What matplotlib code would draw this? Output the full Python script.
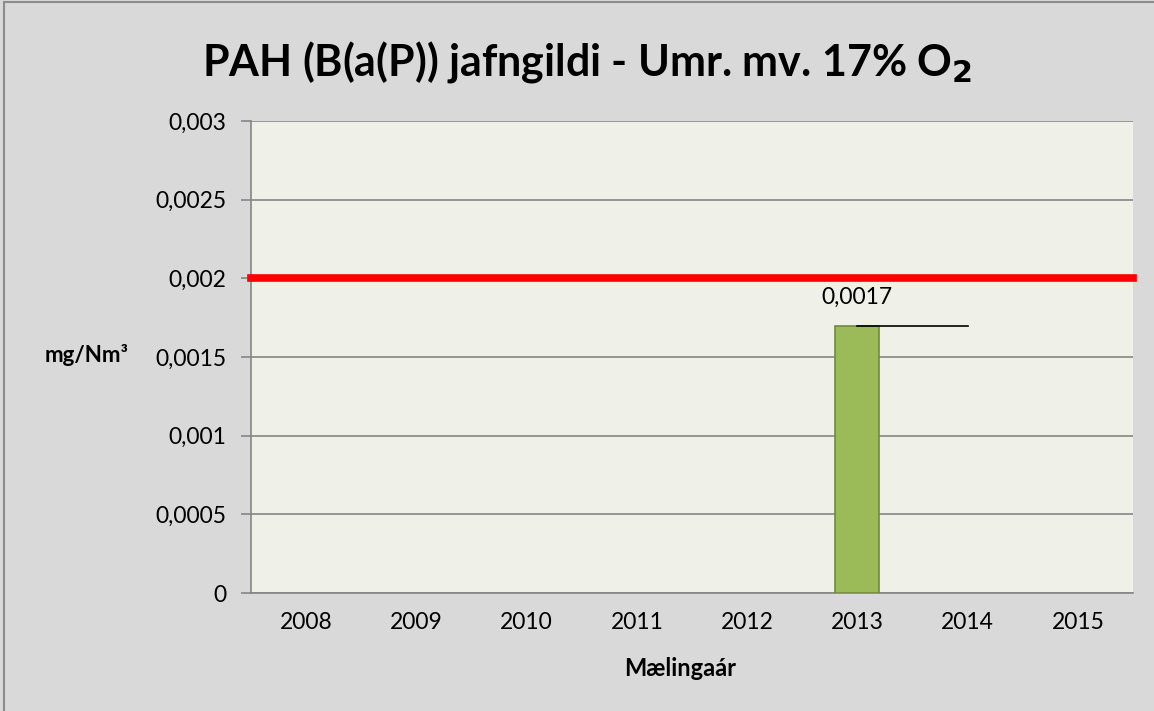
import matplotlib
matplotlib.use("Agg")
import matplotlib.pyplot as plt
from matplotlib.patches import Rectangle

years = ["2008", "2009", "2010", "2011", "2012", "2013", "2014", "2015"]
values = [None, None, None, None, None, 0.0017, None, None]
limit_value = 0.002
label_line_years = ["2013", "2014"]
label_line_values = [0.0017, 0.0017]
yticks = [0, 0.0005, 0.001, 0.0015, 0.002, 0.0025, 0.003]
ytick_labels = ["0", "0,0005", "0,001", "0,0015", "0,002", "0,0025", "0,003"]

plt.rcParams['font.family'] = ['Lato', 'DejaVu Sans']

W, H = 1154, 711
fig = plt.figure(figsize=(W / 100, H / 100), dpi=100)
fig.patch.set_facecolor('#d9d9d9')
fig.patches.append(Rectangle((4 / W, -0.01), 1.02, 1 - 2 / H + 0.01, transform=fig.transFigure,
                             fill=False, edgecolor='#8c8c8c', linewidth=1.5))

ax = fig.add_axes([251 / W, 1 - 593 / H, (1133 - 251) / W, (593 - 121) / H])
ax.set_facecolor('#eff1e9')

x = list(range(len(years)))
for i, v in enumerate(values):
    if v is not None:
        ax.bar(i, v, width=0.4, color='#9bbb59', edgecolor='#71893f', linewidth=1.2, zorder=3)
        ax.text(i, v + 0.00018, f"{v:g}".replace('.', ','), ha='center', va='center',
                fontsize=16.5, color='black', zorder=5)

ax.axhline(limit_value, color='#ff0000', linewidth=5.5, zorder=4, clip_on=False)
lx = [years.index(y) for y in label_line_years]
ax.plot(lx, label_line_values, color='black', linewidth=1.2, zorder=4)

ax.set_xlim(-0.5, len(years) - 0.5)
ax.set_ylim(0, 0.003)
ax.set_yticks(yticks)
ax.set_yticklabels(ytick_labels, fontsize=16.5)
ax.set_xticks(x)
ax.set_xticklabels(years, fontsize=16.5)
ax.tick_params(axis='x', length=0, pad=14)
ax.tick_params(axis='y', length=7, color='#868686', width=1.2, pad=11, direction='out')
ax.yaxis.grid(True, color='#868686', linewidth=1.2, zorder=0)
ax.set_axisbelow(True)
for s in ['top', 'right']:
    ax.spines[s].set_visible(False)
for s in ['left', 'bottom']:
    ax.spines[s].set_color('#868686')
    ax.spines[s].set_linewidth(1.2)

fig.text(680 / W, 1 - 668 / H, "Mælingaár", ha='center', va='center', fontsize=17, fontweight='bold')
fig.text(87 / W, 1 - 355 / H, "mg/Nm³", ha='center', va='center', fontsize=16, fontweight='bold')
fig.text(587 / W, 1 - 62 / H, r"PAH (B(a(P)) jafngildi - Umr. mv. 17% O$_\mathbf{2}$", ha='center', va='center',
         fontsize=31, fontweight='bold')

fig.savefig("out.png", dpi=100, facecolor=fig.get_facecolor())
